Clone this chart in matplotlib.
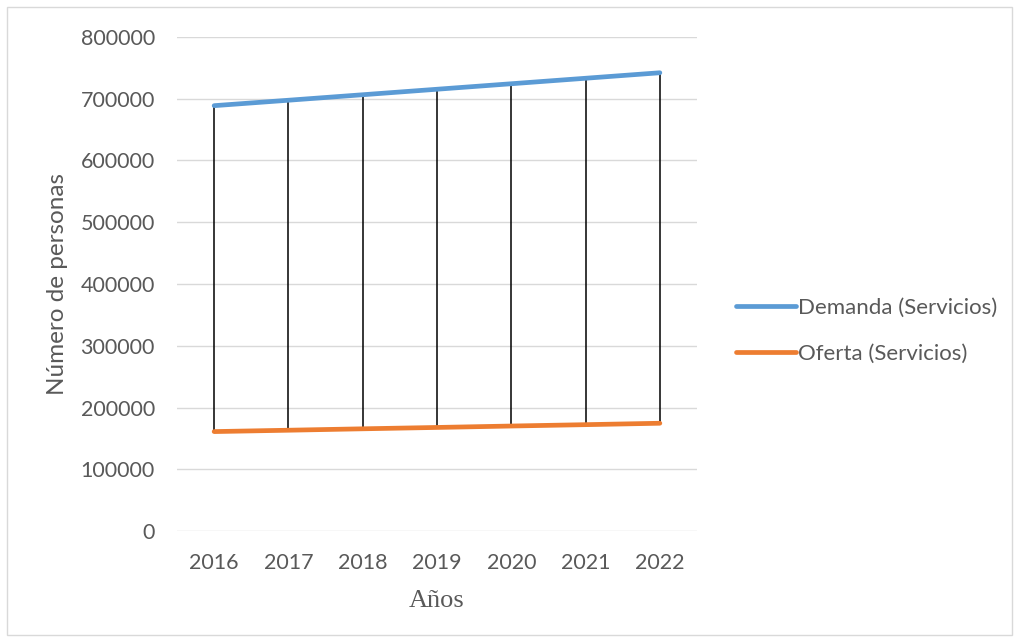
import matplotlib.pyplot as plt
from matplotlib.patches import Rectangle

# data
years = ["2016", "2017", "2018", "2019", "2020", "2021", "2022"]
demanda = [688800, 697600, 706500, 715400, 724300, 733200, 742100]
oferta = [161000, 163200, 165500, 167700, 170000, 172200, 174500]

fig = plt.figure(figsize=(10.19, 6.42), dpi=100)
ax = fig.add_axes([177 / 1019, 111 / 642, 520 / 1019, 494 / 642])

x = list(range(len(years)))

# high-low lines between the two series
ax.vlines(x, oferta, demanda, color="black", linewidth=1.1, zorder=2)

ax.plot(x, demanda, color="#5B9BD5", linewidth=3.4, solid_capstyle="round",
        label="Demanda (Servicios)", zorder=3)
ax.plot(x, oferta, color="#ED7D31", linewidth=3.4, solid_capstyle="round",
        label="Oferta (Servicios)", zorder=3)

ax.set_xlim(-0.5, len(years) - 0.5)
ax.set_ylim(0, 800000)
ax.set_yticks(range(0, 800001, 100000))
ax.set_xticks(x)
ax.set_xticklabels(years)
ax.grid(axis="y", color="#d9d9d9", linewidth=1)
ax.set_axisbelow(True)
for s in ax.spines.values():
    s.set_visible(False)
ax.tick_params(length=0, labelsize=15.5, labelcolor="#595959")
ax.tick_params(axis="x", pad=16)
ax.tick_params(axis="y", pad=16)
for lab in ax.get_xticklabels() + ax.get_yticklabels():
    lab.set_family("Lato")

ax.set_ylabel("Número de personas", fontsize=17.5, color="#595959", family="Lato", labelpad=9)
ax.set_xlabel("Años", fontsize=19, color="#595959", family="Liberation Serif", labelpad=12)

leg = ax.legend(loc="center left", bbox_to_anchor=(716 / 1019, 311 / 642),
                bbox_transform=fig.transFigure, frameon=False, handlelength=2.7,
                handletextpad=0.1, labelspacing=1.15, prop={"family": "Lato", "size": 16})
for t in leg.get_texts():
    t.set_color("#595959")

fig.patches.append(Rectangle((7 / 1019, 7 / 642), 1005 / 1019, 628 / 642, transform=fig.transFigure,
                             fill=False, edgecolor="#d9d9d9", linewidth=1))

fig.savefig("out.png", dpi=100)
